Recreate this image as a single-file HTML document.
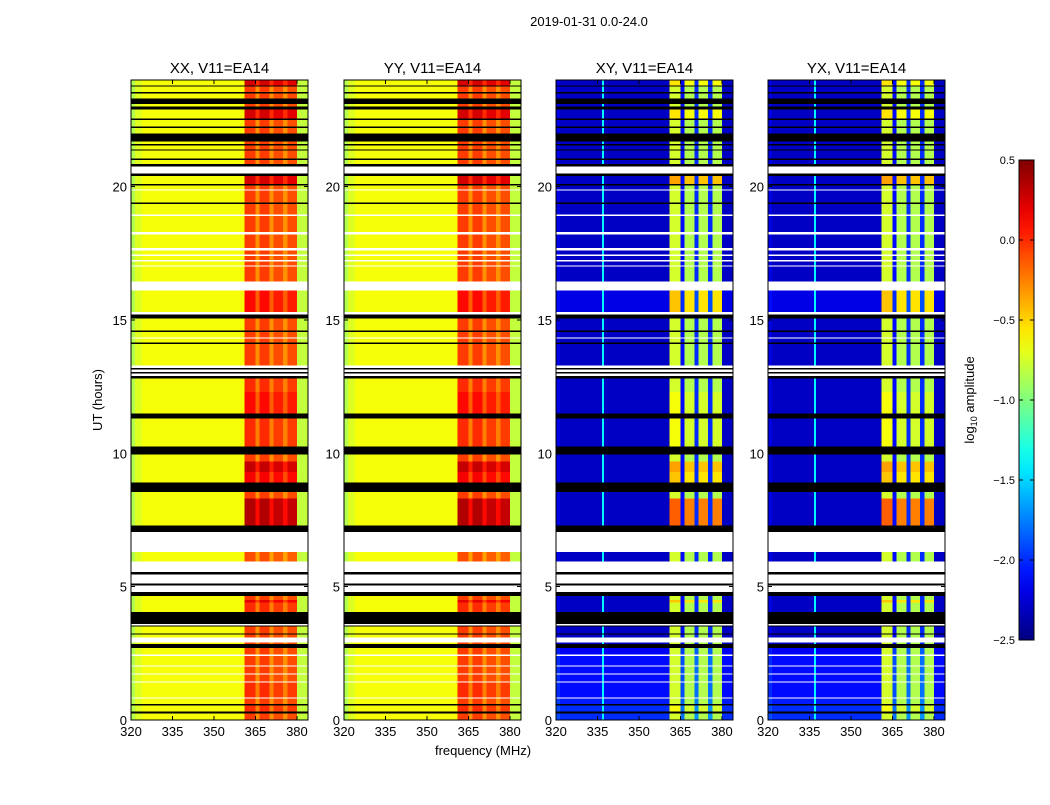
<!DOCTYPE html>
<html><head><meta charset="utf-8"><style>
body{margin:0;background:#fff;width:1050px;height:800px;overflow:hidden;font-family:"Liberation Sans","DejaVu Sans",sans-serif}
svg text{font-family:"Liberation Sans","DejaVu Sans",sans-serif;fill:#000}
</style></head><body>
<svg id="chart" width="1050" height="800" xmlns="http://www.w3.org/2000/svg" shape-rendering="crispEdges">
<defs><linearGradient id="jetg" x1="0" y1="1" x2="0" y2="0"></linearGradient></defs>
<text x="589" y="26" text-anchor="middle" style="font-size:13px">2019-01-31 0.0-24.0</text>
<text x="483" y="755" text-anchor="middle" style="font-size:13px">frequency (MHz)</text>
<text transform="translate(102,400) rotate(-90)" text-anchor="middle" style="font-size:13px">UT (hours)</text>
<g id="panels"></g>
<g id="cbar"></g>
<text transform="translate(974,400) rotate(-90)" text-anchor="middle" style="font-size:13px">log<tspan style="font-size:9px" dy="3">10</tspan><tspan dy="-3"> amplitude</tspan></text>
</svg>
<script>
const panelTitles=["XX, V11=EA14","YY, V11=EA14","XY, V11=EA14","YX, V11=EA14"];
const freqEdges=[320,321.5,324,336.7,337.4,361,365,366.5,370,371.5,375,376.5,380,384];
const parProfile=[-0.85,-0.72,-0.65,-0.65,-0.65,-0.05,-0.3,-0.05,-0.3,-0.1,-0.3,-0.1,-0.8];
const crossProfile=[-2.2,-2.3,-2.3,-1.4,-2.3,-0.75,-2.1,-0.85,-2.0,-0.85,-2.0,-0.85,-2.3];
const xTicks=[320,335,350,365,380];
const yTicks=[0,5,10,15,20];
const cbTicks=[0.5,0.0,-0.5,-1.0,-1.5,-2.0,-2.5];
// [start hr, end hr, type (d=data,w=empty,k=flagged), parBandOffset, crossBandOffset, crossBgOffset]
const rows=[
[0,0.25,'d',0,0,0.3],[0.25,0.32,'k'],[0.32,0.55,'d',0.05,0.1,0.3],[0.55,0.6,'k'],[0.6,0.8,'d',0,0,0.25],[0.8,0.85,'w'],
[0.85,1.4,'d',0.05,0,0.2],[1.4,1.45,'w'],[1.45,1.7,'d',0,0,0.2],[1.7,1.75,'w'],[1.75,2.0,'d',0,0,0.2],[2.0,2.05,'w'],
[2.05,2.4,'d',0,0,0.2],[2.4,2.45,'w'],[2.45,2.7,'d',0,0,0.15],[2.7,2.85,'k'],[2.85,2.9,'d'],[2.9,3.1,'w'],[3.1,3.2,'d'],
[3.2,3.25,'k'],[3.25,3.5,'d'],[3.5,3.55,'k'],[3.55,3.6,'w'],[3.6,4.05,'k'],[4.05,4.4,'d',0.05,0,0],[4.4,4.5,'d',0.25,0.3,0],
[4.5,4.65,'d'],[4.65,4.8,'k'],[4.8,5.05,'w'],[5.05,5.12,'k'],[5.12,5.45,'w'],[5.45,5.55,'k'],[5.55,5.95,'w'],[5.95,6.3,'d',-0.05,0,0],
[6.3,7.05,'w'],[7.05,7.3,'k'],[7.3,8.3,'d',0.4,0.6,0],[8.3,8.55,'d'],[8.55,8.9,'k'],[8.9,9.3,'d',0.2,0.3,0],[9.3,9.7,'d',0.35,0.4,0],
[9.7,9.95,'d'],[9.95,10.25,'k'],[10.25,11.3,'d',0.05,0.1,0],[11.3,11.5,'k'],[11.5,12.3,'d',0.15,0.1,0],[12.3,12.8,'d',0.05,0,0],
[12.8,12.9,'k'],[12.9,13.0,'w'],[13.0,13.05,'k'],[13.05,13.15,'w'],[13.15,13.2,'k'],[13.2,13.3,'w'],[13.3,14.0,'d'],
[14.0,14.1,'d'],[14.1,14.15,'k'],[14.15,14.3,'d'],[14.3,14.35,'w'],[14.35,14.55,'d'],[14.55,14.6,'k'],[14.6,15.05,'d'],
[15.05,15.2,'k'],[15.2,15.3,'w'],[15.3,16.1,'d',0.15,0.3,0.1],[16.1,16.45,'w'],[16.45,17.0,'d'],[17.0,17.05,'w'],[17.05,17.2,'d'],
[17.2,17.25,'w'],[17.25,17.4,'d'],[17.4,17.45,'w'],[17.45,17.6,'d'],[17.6,17.7,'w'],[17.7,18.2,'d'],[18.2,18.3,'w'],[18.3,18.9,'d'],
[18.9,18.95,'w'],[18.95,19.35,'d'],[19.35,19.4,'k'],[19.4,19.85,'d'],[19.85,19.9,'w'],[19.9,20.05,'d'],[20.05,20.1,'k'],
[20.1,20.4,'d',0.3,0.4,0],[20.4,20.5,'k'],[20.5,20.75,'w'],[20.75,20.85,'k'],[20.85,21.0,'d'],[21.0,21.05,'k'],[21.05,21.35,'d'],
[21.35,21.4,'k'],[21.4,21.55,'d'],[21.55,21.6,'k'],[21.6,21.7,'d'],[21.7,22.0,'k'],[22.0,22.2,'d'],[22.2,22.25,'k'],[22.25,22.5,'d'],
[22.5,22.55,'k'],[22.55,22.9,'d',0.3,0.2,0],[22.9,23.0,'k'],[23.0,23.1,'d'],[23.1,23.3,'k'],[23.3,23.5,'d'],[23.5,23.55,'k'],
[23.55,23.75,'d'],[23.75,23.8,'k'],[23.8,24,'d',0.3,0.2,0]];

const NS='http://www.w3.org/2000/svg';
const panelX=[131,344,556,768], PW=177, PT=80, PH=640;
const vmin=-2.5, vmax=0.5;
function xs(p,f){return panelX[p]+(f-320)*PW/64;}
function ys(h){return PT+PH-h*PH/24;}
function cl(v){return Math.max(0,Math.min(1,v));}
function jet(v){const t=cl((v-vmin)/(vmax-vmin));
 const r=cl(1.5-Math.abs(4*t-3)),g=cl(1.5-Math.abs(4*t-2)),b=cl(1.5-Math.abs(4*t-1));
 return `rgb(${Math.round(r*255)},${Math.round(g*255)},${Math.round(b*255)})`;}
function mk(tag,attrs,parent){const e=document.createElementNS(NS,tag);for(const k in attrs)e.setAttribute(k,attrs[k]);parent.appendChild(e);return e;}
const G=document.getElementById('panels');
for(let p=0;p<4;p++){
 const g=mk('g',{},G);
 
 
 const cross=p>=2, prof=cross?crossProfile:parProfile;
 rows.forEach(r=>{
  const y0=ys(r[1]),y1=ys(r[0]);
  if(r[2]!=='d'){
   const rc=mk('rect',{x:panelX[p],y:y0,width:PW,height:y1-y0,fill:r[2]==='k'?'#000':'#fff'},g);
   
   
   return;}
  const pb=r[3]||0,cb=r[4]||0,cbg=r[5]||0;
  for(let i=0;i<prof.length;i++){
   let v=prof[i];
   if(cross){ if(v>-1.2) v+=cb; else if(i!==3) v+=cbg; }
   else { if(v>-0.45) v+=pb; }
   const x0=xs(p,freqEdges[i]),x1=xs(p,freqEdges[i+1]);
   const rc=mk('rect',{x:x0,y:y0,width:x1-x0,height:y1-y0,fill:jet(v)},g);
   
   
  }
 });
 const fr=mk('rect',{x:panelX[p],y:PT,width:PW,height:PH,fill:'none',stroke:'#000','stroke-width':1},g);
 
 
 const tt=mk('text',{x:panelX[p]+PW/2,y:73,'text-anchor':'middle',style:'font-size:15px'},g);
 tt.textContent=panelTitles[p];
 
 
 xTicks.forEach(f=>{const x=xs(p,f);
  mk('line',{x1:x,x2:x,y1:PT+PH,y2:PT+PH-4,stroke:'#000'},g);
  mk('line',{x1:x,x2:x,y1:PT,y2:PT+4,stroke:'#000'},g);
  const t=mk('text',{x:x,y:PT+PH+16,'text-anchor':'middle',style:'font-size:13px'},g);t.textContent=f;
  
  });
 yTicks.forEach(h=>{const y=ys(h);
  mk('line',{x1:panelX[p],x2:panelX[p]+4,y1:y,y2:y,stroke:'#000'},g);
  mk('line',{x1:panelX[p]+PW,x2:panelX[p]+PW-4,y1:y,y2:y,stroke:'#000'},g);
  const t=mk('text',{x:panelX[p]-4,y:y+5,'text-anchor':'end',style:'font-size:13px'},g);t.textContent=h;
  
  });
}
const grad=document.getElementById('jetg');
for(let i=0;i<=20;i++){const v=vmin+(vmax-vmin)*i/20;mk('stop',{offset:(i*5)+'%','stop-color':jet(v)},grad);}
const CB=document.getElementById('cbar'),cbx=1019,cby=160,cbh=480;
const cr=mk('rect',{x:cbx,y:cby,width:15,height:cbh,fill:'url(#jetg)',stroke:'#000'},CB);


cbTicks.forEach(v=>{const y=cby+(vmax-v)/(vmax-vmin)*cbh;
 mk('line',{x1:cbx,x2:cbx+4,y1:y,y2:y,stroke:'#000'},CB);
 mk('line',{x1:cbx+11,x2:cbx+15,y1:y,y2:y,stroke:'#000'},CB);
 const t=mk('text',{x:cbx-4,y:y+4,'text-anchor':'end',style:'font-size:11px'},CB);
 t.textContent=(v<0?'\u2212':'')+Math.abs(v).toFixed(1);
 
 });
</script>
</body></html>
